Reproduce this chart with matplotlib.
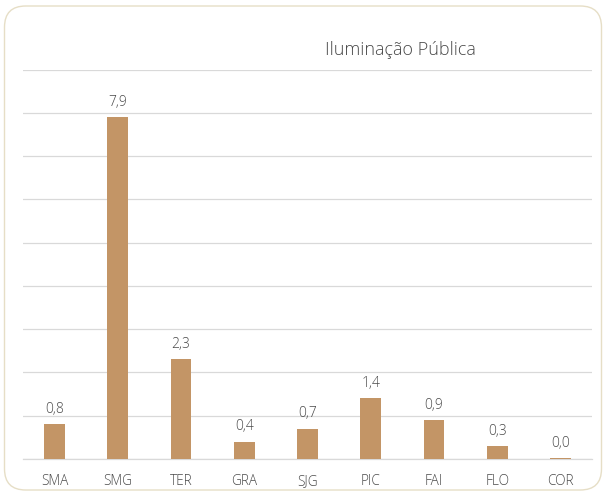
import matplotlib
matplotlib.use("Agg")
import matplotlib.pyplot as plt
from matplotlib.patches import FancyBboxPatch

categories = ["SMA", "SMG", "TER", "GRA", "SJG", "PIC", "FAI", "FLO", "COR"]
values = [0.8, 7.9, 2.3, 0.4, 0.7, 1.4, 0.9, 0.3, 0.02]
labels = ["0,8", "7,9", "2,3", "0,4", "0,7", "1,4", "0,9", "0,3", "0,0"]
title = "Iluminação Pública"

plt.rcParams['font.family'] = ['Open Sans', 'DejaVu Sans']
W, H = 606, 495
fig = plt.figure(figsize=(W/100, H/100), dpi=100)
fig.patch.set_facecolor('white')

frame = FancyBboxPatch((4.5/W, 5/H), 597/W, 484/H,
                       boxstyle="round,pad=0,rounding_size=0.035",
                       transform=fig.transFigure, facecolor='white',
                       edgecolor='#E6DEC6', linewidth=1.0, mutation_aspect=W/H,
                       zorder=-10)
fig.patches.append(frame)

left, right = 23/W, 592/W
bottom, top = 1 - 459/H, 1 - 69.5/H
ax = fig.add_axes([left, bottom, right-left, top-bottom])
ax.set_facecolor('none')
x = list(range(len(categories)))
ax.bar(x, values, width=0.33, color='#C39566', zorder=3)
for xi, v, lab in zip(x, values, labels):
    ax.text(xi, v + 0.17, lab, ha='center', va='bottom', fontsize=10,
            color='#4A4A4A', fontweight='light')
ax.set_xlim(-0.5, len(categories) - 0.5)
ax.set_ylim(0, 9)
ax.set_yticks(range(0, 10))
ax.yaxis.grid(True, color='#D9D9D9', linewidth=0.9, zorder=0)
ax.tick_params(axis='y', left=False, labelleft=False)
ax.set_xticks(x)
ax.set_xticklabels(categories, fontsize=9.8, color='#4A4A4A', fontweight='light')
ax.tick_params(axis='x', length=0, pad=11)
for s in ['left', 'right', 'top']:
    ax.spines[s].set_visible(False)
ax.spines['bottom'].set_color('#D9D9D9')
ax.spines['bottom'].set_linewidth(0.9)

fig.text(400/W, 1 - 50/H, title, ha='center', va='center', fontsize=13,
         color='#4A4A4A', fontweight='light')

fig.savefig('out.png', dpi=100)
